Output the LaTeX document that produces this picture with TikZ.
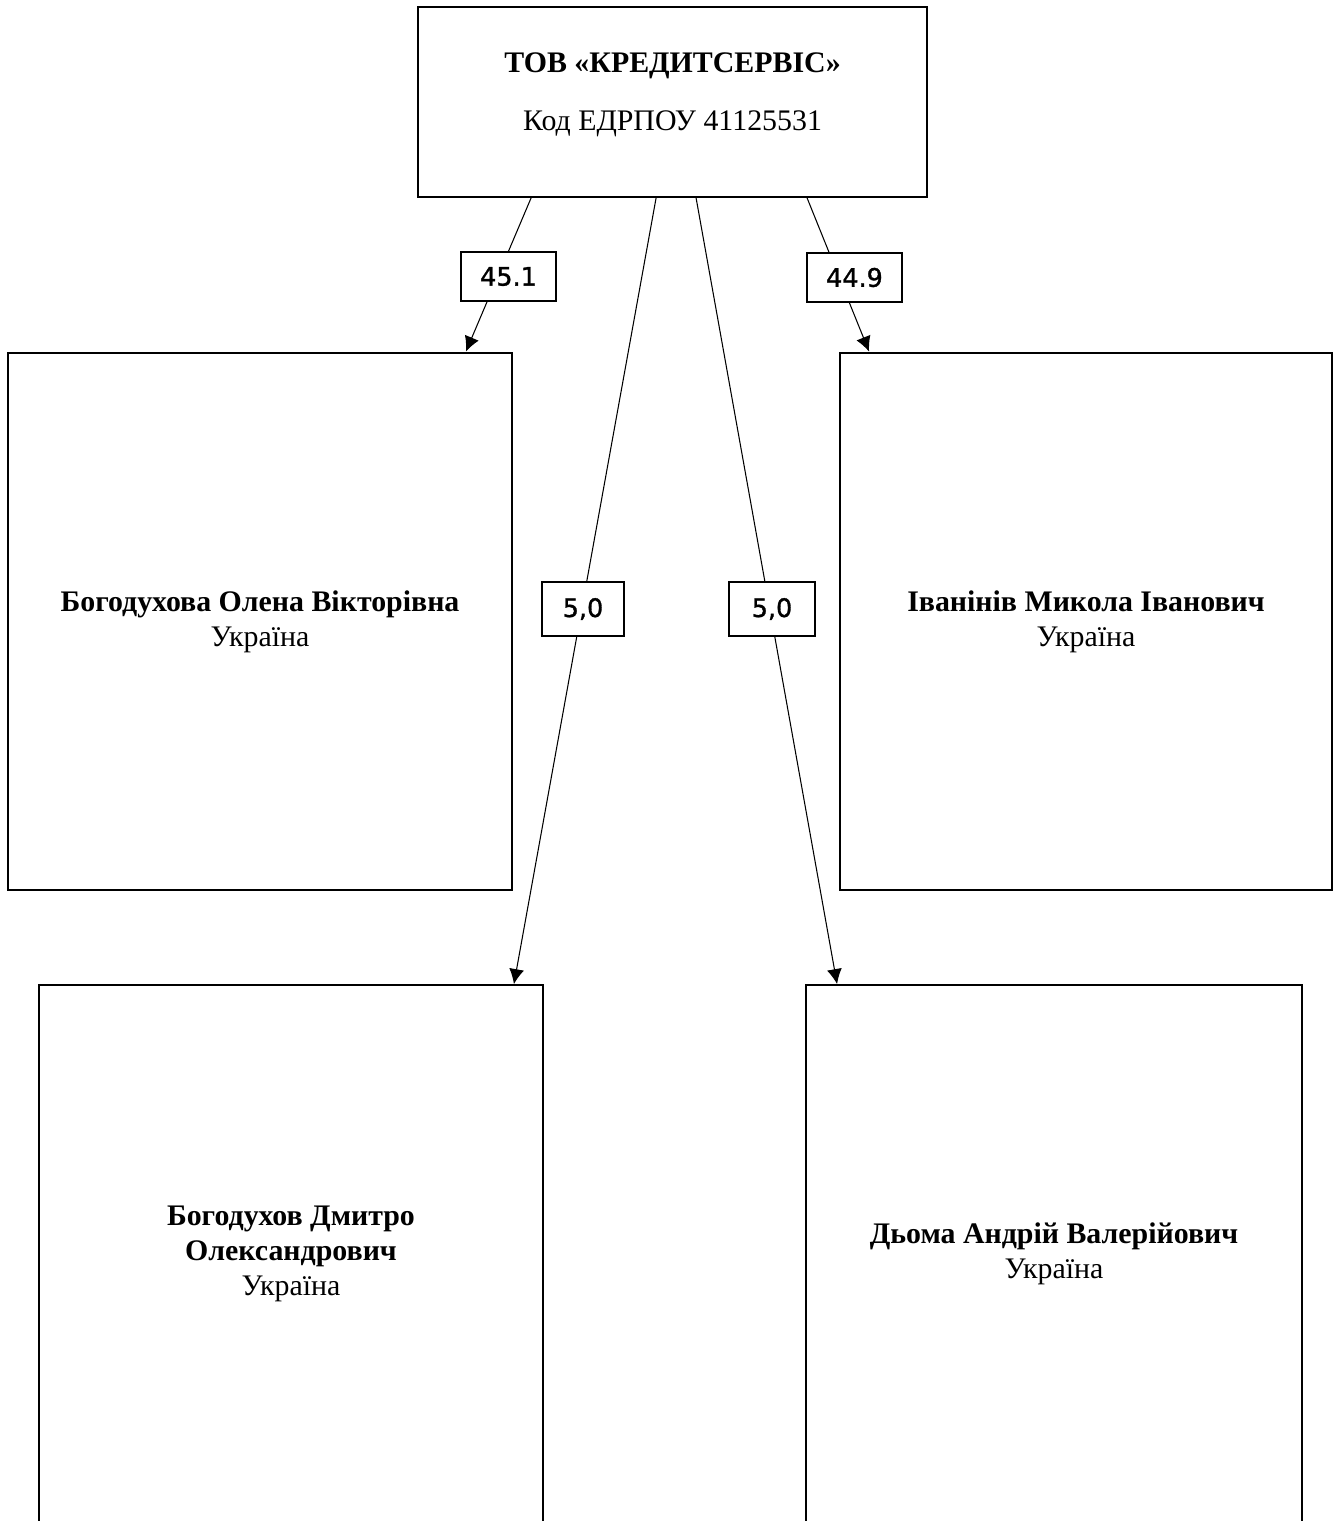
\documentclass[tikz,border=0pt]{standalone}
\usepackage{fontspec}
\setmainfont{Liberation Serif}
\newfontfamily\numfont[AutoFakeBold=1.2]{DejaVu Sans}
\usetikzlibrary{positioning, calc, arrows.meta}

\begin{document}
\begin{tikzpicture}[x=0.02cm, y=-0.02cm,
    firm/.style={draw, line width=1.1pt, minimum width=10.18cm, minimum height=3.8cm},
    person/.style={draw, line width=1.1pt, minimum height=10.76cm, align=center,
      font=\fontsize{17}{20}\selectfont},
    share/.style={draw, fill=white, line width=1pt, font=\numfont\fontsize{14.5}{16}\selectfont,
      minimum height=0.98cm},
    >={Latex[length=3mm,width=3mm]}, line width=0.6pt]

  \useasboundingbox (0,0) rectangle (1340,1521);

  % company
  \node[firm] (top) at (672.5,102) {};
  \node[anchor=base, font=\fontsize{17}{20}\selectfont\bfseries] (topname) at (672.5,72) {ТОВ «КРЕДИТСЕРВІС»};
  \node[anchor=base, font=\fontsize{17}{20}\selectfont] (topcode) at (672.5,130) {Код ЕДРПОУ 41125531};

  % owners
  \node[person, minimum width=10.08cm] (olena) at (260,621.5)
    {\textbf{Богодухова Олена Вікторівна}\\Україна};
  \node[person, minimum width=9.84cm] (ivan) at (1086,621.5)
    {\textbf{Іванінів Микола Іванович}\\Україна};
  \node[person, minimum width=10.08cm] (dmytro) at (291,1254)
    {\textbf{Богодухов Дмитро}\\\textbf{Олександрович}\\Україна};
  \node[person, minimum width=9.92cm] (doma) at (1054,1254)
    {\textbf{Дьома Андрій Валерійович}\\Україна};

  % shares
  \draw[->] ($(top.south west)+(114,0)$) -- ($(olena.north east)+(-47,0)$);
  \draw[->] ($(top.south west)+(390,0)$) -- ($(ivan.north west)+(30,0)$);
  \draw[->] ($(top.south west)+(239,0)$) -- ($(dmytro.north east)+(-30,0)$);
  \draw[->] ($(top.south west)+(279,0)$) -- ($(doma.north west)+(32,0)$);

  \node[share, minimum width=1.9cm] (s1) at (508.5,276.5) {\bfseries 45.1};
  \node[share, minimum width=1.9cm] (s2) at (854.5,277.5) {\bfseries 44.9};
  \node[share, minimum width=1.64cm, minimum height=1.08cm] (s3) at (583,609) {\bfseries 5,0};
  \node[share, minimum width=1.72cm, minimum height=1.08cm] (s4) at (772,609) {\bfseries 5,0};
\end{tikzpicture}
\end{document}
